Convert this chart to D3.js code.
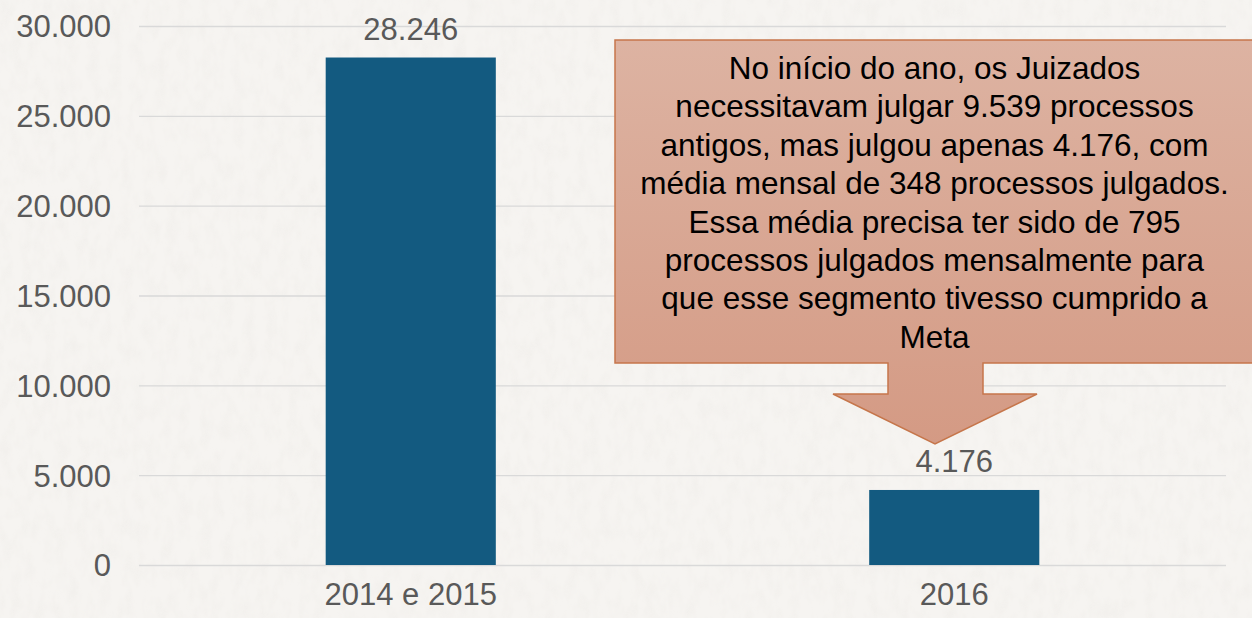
<!DOCTYPE html>
<html>
<head>
<meta charset="utf-8">
<title>Processos julgados</title>
<script src="https://cdn.jsdelivr.net/npm/d3@7"></script>
<style>
  html, body { margin:0; padding:0; background:#f4f2ef; }
  svg { display:block; }
  .tick text, .lbl { font-family: Arial, "Liberation Sans", sans-serif; fill:#595959; }
  .note { font-family: Arial, "Liberation Sans", sans-serif; fill:#000; }
</style>
</head>
<body>
<div id="chart"></div>
<script>
// data
var categories = ["2014 e 2015", "2016"];
var values = [28246, 4176];
var yTicks = [0, 5000, 10000, 15000, 20000, 25000, 30000];
var noteLines = [
  "No início do ano, os Juizados",
  "necessitavam julgar 9.539 processos",
  "antigos, mas julgou apenas 4.176, com",
  "média mensal de 348 processos julgados.",
  "Essa média precisa ter sido de 795",
  "processos julgados mensalmente para",
  "que esse segmento tivesso cumprido a",
  "Meta"
];

var width = 1252, height = 618;
var margin = {top: 26, right: 26, bottom: 53, left: 139};

var svg = d3.select("#chart").append("svg")
  .attr("width", width)
  .attr("height", height);

// paper texture
var defs = svg.append("defs");
var f = defs.append("filter").attr("id", "paper").attr("x", 0).attr("y", 0).attr("width", "100%").attr("height", "100%");
f.append("feTurbulence").attr("type", "fractalNoise").attr("baseFrequency", "0.09 0.05").attr("numOctaves", 3).attr("seed", 4).attr("result", "n");
f.append("feColorMatrix").attr("in", "n").attr("type", "matrix")
  .attr("values", "0 0 0 0 0.86  0 0 0 0 0.84  0 0 0 0 0.81  0 0 0 -1.4 0.85");
svg.append("rect").attr("width", width).attr("height", height).attr("fill", "#f6f4f1");
svg.append("rect").attr("width", width).attr("height", height).attr("filter", "url(#paper)").attr("opacity", 0.7);

var grad = defs.append("linearGradient").attr("id", "boxgrad").attr("x1", 0).attr("y1", 0).attr("x2", 0).attr("y2", 1);
grad.append("stop").attr("offset", "0%").attr("stop-color", "#ddb3a2");
grad.append("stop").attr("offset", "100%").attr("stop-color", "#d49a84");

var x = d3.scaleBand().domain(categories).range([margin.left, width - margin.right]).padding(0);
var y = d3.scaleLinear().domain([0, 30000]).range([height - margin.bottom, margin.top]);
var barW = x.bandwidth() * 0.313;

var fmt = function(v){ return d3.format(",")(v).replace(/,/g, "."); };

// y axis + grid
var yAxis = svg.append("g")
  .attr("transform", "translate(" + margin.left + ",0)")
  .call(d3.axisLeft(y).tickValues(yTicks).tickSize(-(width - margin.left - margin.right)).tickPadding(28).tickFormat(fmt));
yAxis.select(".domain").remove();
yAxis.selectAll(".tick line").attr("stroke", "#d9d9d9").attr("stroke-width", 1.3);
yAxis.selectAll(".tick text").style("font-size", "31px").attr("dy", "0.35em");

// x axis
var xAxis = svg.append("g")
  .attr("transform", "translate(0," + (height - margin.bottom) + ")")
  .call(d3.axisBottom(x).tickSize(0).tickPadding(18));
xAxis.select(".domain").remove();
xAxis.selectAll(".tick text").style("font-size", "31px").attr("dy", "0.71em");

// bars
svg.selectAll(".bar").data(values).enter().append("rect")
  .attr("class", "bar")
  .attr("x", function(d, i){ return x(categories[i]) + x.bandwidth()/2 - barW/2; })
  .attr("width", barW)
  .attr("y", function(d){ return y(d); })
  .attr("height", function(d){ return y(0) - y(d); })
  .attr("fill", "#135a80");

svg.selectAll(".lbl").data(values).enter().append("text")
  .attr("class", "lbl")
  .attr("x", function(d, i){ return x(categories[i]) + x.bandwidth()/2; })
  .attr("y", function(d){ return y(d) - 18; })
  .attr("text-anchor", "middle")
  .style("font-size", "31px")
  .text(fmt);

// callout annotation
var bx0 = 615, by0 = 40, bx1 = 1254, by1 = 363;
var sx0 = 888, sx1 = 983, sy = 394, hx0 = 833, hx1 = 1037, tipX = 935, tipY = 444;
var path = d3.path();
path.moveTo(bx0, by0); path.lineTo(bx1, by0); path.lineTo(bx1, by1);
path.lineTo(sx1, by1); path.lineTo(sx1, sy); path.lineTo(hx1, sy);
path.lineTo(tipX, tipY); path.lineTo(hx0, sy); path.lineTo(sx0, sy);
path.lineTo(sx0, by1); path.lineTo(bx0, by1); path.closePath();
svg.append("path").attr("d", path.toString())
  .attr("fill", "url(#boxgrad)")
  .attr("stroke", "#c6764b")
  .attr("stroke-width", 1.5);

var cx = 934.5;
svg.append("g").selectAll("text").data(noteLines).enter().append("text")
  .attr("class", "note")
  .attr("x", cx)
  .attr("y", function(d, i){ return 79 + i * 38.4; })
  .attr("text-anchor", "middle")
  .style("font-size", "31.5px")
  .text(function(d){ return d; });
</script>
</body>
</html>
